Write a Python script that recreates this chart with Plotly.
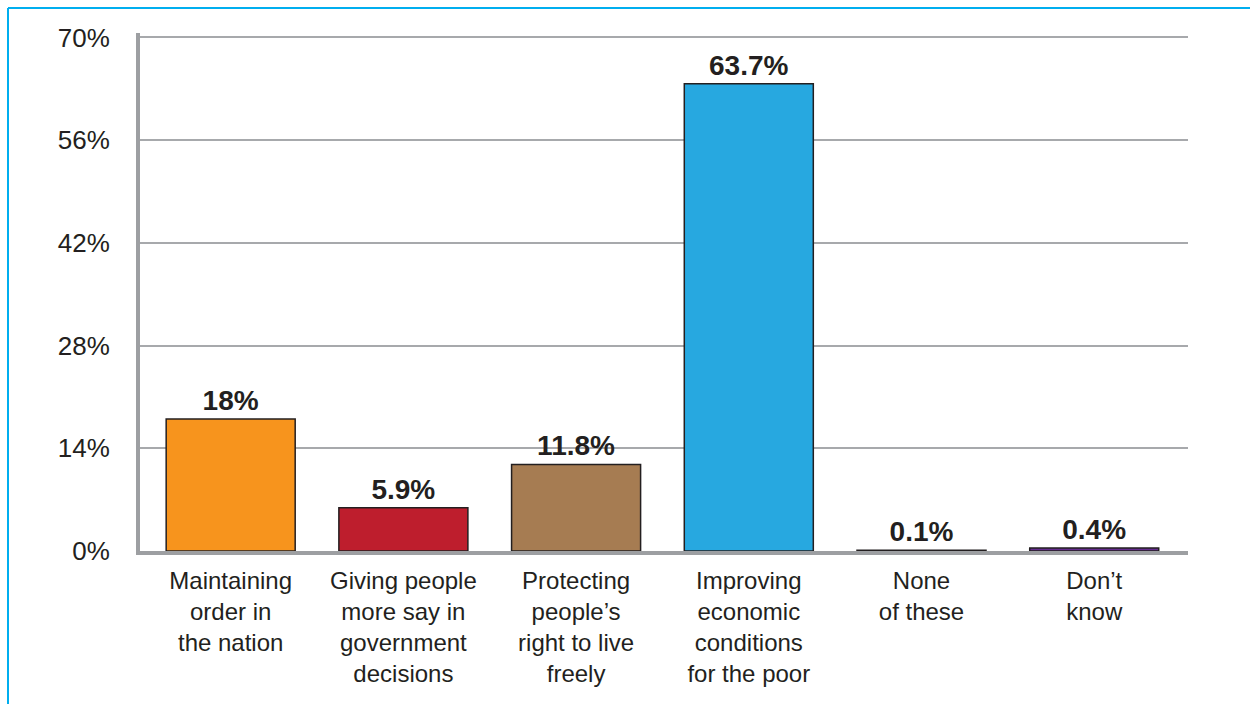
import plotly.graph_objects as go

categories = [
    "Maintaining<br>order in<br>the nation",
    "Giving people<br>more say in<br>government<br>decisions",
    "Protecting<br>people’s<br>right to live<br>freely",
    "Improving<br>economic<br>conditions<br>for the poor",
    "None<br>of these",
    "Don’t<br>know",
]
values = [18, 5.9, 11.8, 63.7, 0.1, 0.4]
labels = [f"{v:g}%" for v in values]
colors = ["#F7941D", "#BE1E2D", "#A67C52", "#27A8E0", "#603913", "#662D91"]
y_ticks = [0, 14, 28, 42, 56, 70]
y_ticktext = [f"{t}%" for t in y_ticks]

W, H = 1250, 704
L, R, T, B = 140, 62, 33, 152.5
pw, ph = W - L - R, H - T - B

fig = go.Figure(
    go.Bar(
        x=categories,
        y=values,
        width=0.747,
        marker=dict(color=colors, line=dict(color="#231F20", width=1.5)),
        text=labels,
        textposition="outside",
        cliponaxis=False,
        textfont=dict(family="Liberation Sans, Arial", size=28, color="#231F20", weight="bold"),
    )
)

def px_x(p):
    return (p - L) / pw

def px_y(p):
    return (H - B - p) / ph

fig.update_layout(
    width=W,
    height=H,
    margin=dict(l=L, r=R, t=T, b=B),
    paper_bgcolor="white",
    plot_bgcolor="white",
    showlegend=False,
    font=dict(family="Liberation Sans, Arial", color="#231F20"),
    xaxis=dict(
        range=[-0.525, 5.543],
        showline=True,
        linewidth=4,
        linecolor="#9D9FA2",
        showgrid=False,
        ticks="",
        tickfont=dict(size=24, color="#231F20"),
        ticklabelstandoff=5,
        fixedrange=True,
    ),
    yaxis=dict(
        range=[0, 70.6],
        tickvals=y_ticks,
        ticktext=y_ticktext,
        showline=True,
        linewidth=4,
        linecolor="#9D9FA2",
        showgrid=True,
        gridcolor="#A7A9AC",
        gridwidth=1.5,
        zeroline=False,
        ticks="",
        tickfont=dict(size=26, color="#231F20"),
        ticklabelstandoff=21,
        fixedrange=True,
    ),
    shapes=[
        dict(type="line", xref="paper", yref="paper",
             x0=px_x(8), x1=px_x(1260), y0=px_y(8), y1=px_y(8),
             line=dict(color="#00AEEF", width=2)),
        dict(type="line", xref="paper", yref="paper",
             x0=px_x(8), x1=px_x(8), y0=px_y(8), y1=px_y(720),
             line=dict(color="#00AEEF", width=2)),
    ],
)

fig.write_html("out.html")
